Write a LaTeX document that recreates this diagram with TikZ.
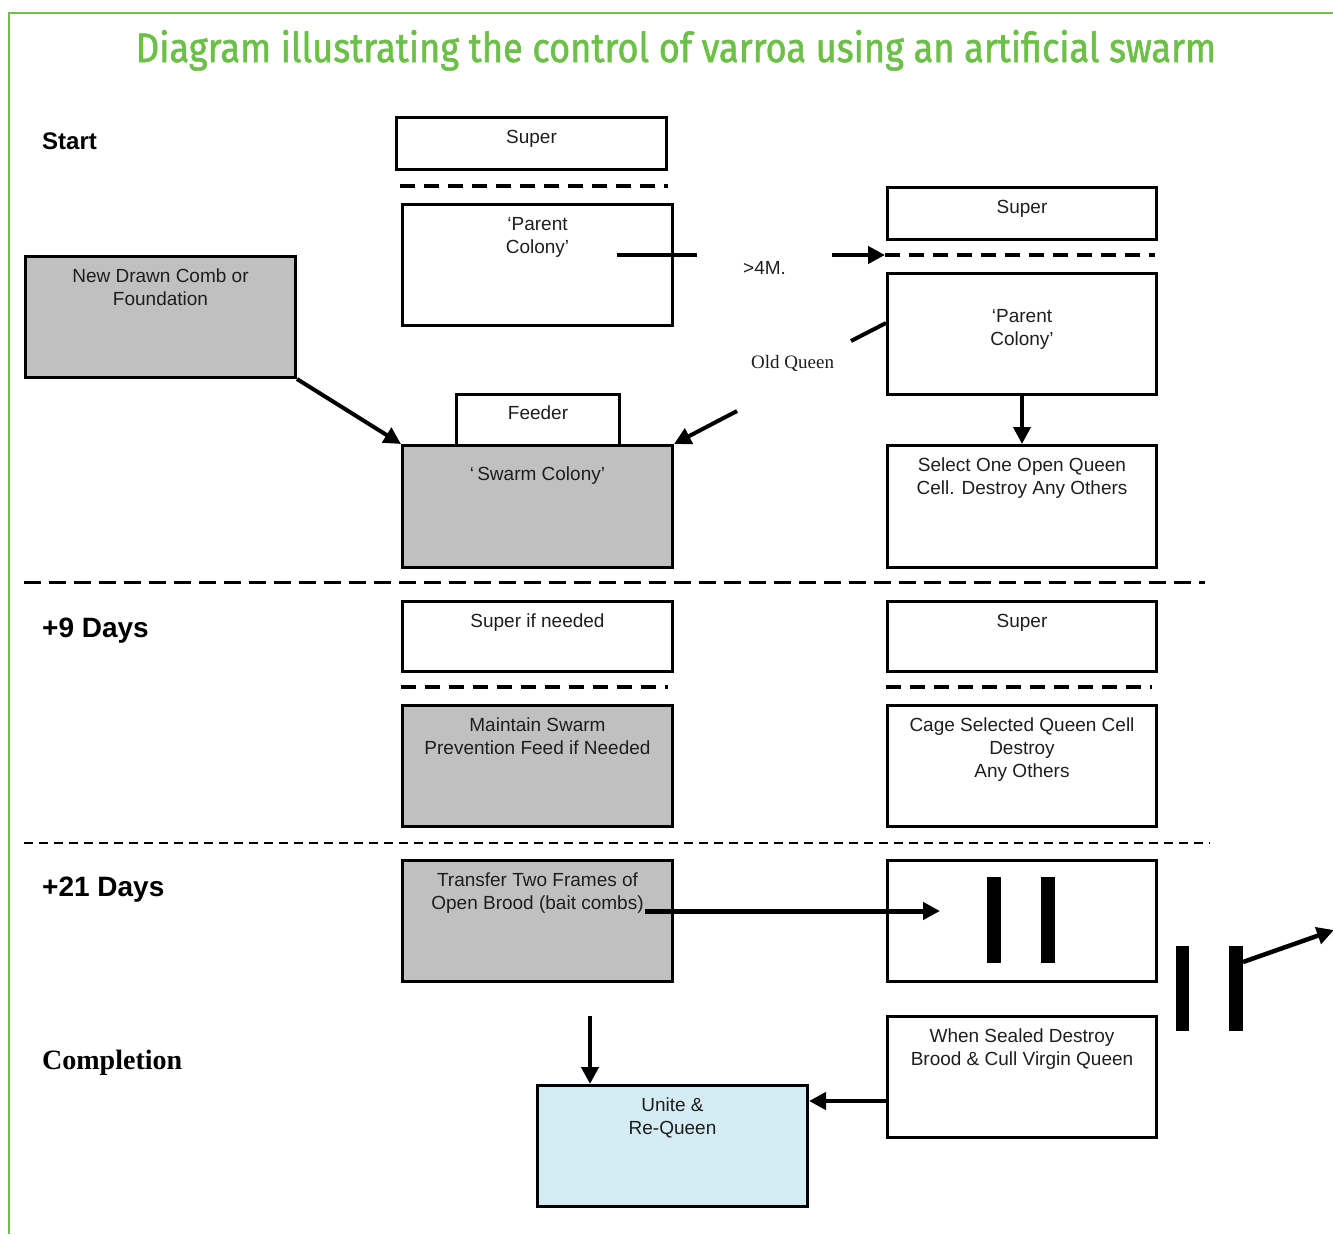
\documentclass[tikz,border=0pt]{standalone}
\usepackage{graphicx}
\usepackage{fontspec}
\setmainfont{Liberation Sans}
\newfontfamily\serifF{Liberation Serif}
\newfontfamily\titleF{Fira Sans}[FakeBold=1.5]
\usetikzlibrary{arrows.meta}
\definecolor{ggreen}{RGB}{108,192,72}
\definecolor{boxgray}{RGB}{192,192,192}
\definecolor{lblue}{RGB}{212,236,244}
\definecolor{txtc}{RGB}{30,30,30}
\begin{document}
\begin{tikzpicture}[x=1pt,y=-1pt,
  box/.style={draw=black,line width=3pt,anchor=north west,inner sep=0pt,minimum width=270pt,minimum height=121pt},
  gbox/.style={box,fill=boxgray},
  boxtxt/.style={anchor=north,align=center,inner sep=0pt,text=txtc,font=\fontsize{19}{23}\selectfont},
  phase/.style={anchor=base west,inner sep=0pt,text=black,font=\bfseries\fontsize{28}{32}\selectfont},
  arr/.style={line width=4.5pt,-{Triangle[length=17pt,width=17pt]}},
  thick line/.style={line width=4.5pt},
  sepdash/.style={line width=3.5pt,dash pattern=on 15pt off 9pt},
  longdash/.style={line width=3pt,dash pattern=on 17pt off 8pt},
  finedash/.style={line width=2.5pt,dash pattern=on 9pt off 6pt}
]
\useasboundingbox (0,0) rectangle (1333,1234);
% frame
\draw[ggreen,line width=2.5pt] (9,1234) -- (9,13) -- (1333,13);
% title
\node[text=ggreen,anchor=base,inner sep=0pt] (title) at (676,62)
  {\resizebox{1080pt}{32pt}{\titleF Diagram illustrating the control of varroa using an artificial swarm}};

% phase labels
\node[phase,font=\bfseries\fontsize{24}{28}\selectfont] (start) at (42,149) {Start};
\node[phase] (nine) at (42,637) {+9 Days};
\node[phase] (tw1) at (42,896) {+21 Days};
\node[phase,font=\serifF\bfseries\fontsize{28}{32}\selectfont] (comp) at (42,1069) {Completion};

% ---------- Start row, left column ----------
\node[box,minimum height=52pt] (S1) at (395,116) {};
\node[boxtxt] at ([yshift=-14pt]S1.north) {Super};
\draw[sepdash] (400,186) -- (668,186);
\node[box] (PC1) at (401,203) {};
\node[boxtxt] at ([yshift=-14pt]PC1.north) {‘Parent\\Colony’};

\node[gbox] (ND) at (24,255) {};
\node[boxtxt] at ([yshift=-14pt]ND.north) {New Drawn Comb or\\Foundation};

\node[box,minimum width=163pt,minimum height=51pt] (FD) at (455,393) {};
\node[boxtxt] at ([yshift=-13pt]FD.north) {Feeder};
\node[gbox,minimum height=122pt] (SC) at (401,444) {};
\node[boxtxt] at ([yshift=-23pt]SC.north) {‘\,Swarm Colony’};

% ---------- Start row, right column ----------
\node[box,minimum width=269pt,minimum height=52pt] (S2) at (886,186) {};
\node[boxtxt] at ([yshift=-14pt]S2.north) {Super};
\draw[sepdash] (885,255) -- (1155,255);
\node[box,minimum width=269pt] (PC2) at (886,272) {};
\node[boxtxt] at ([yshift=-37pt]PC2.north) {‘Parent\\Colony’};
\node[box,minimum width=269pt,minimum height=122pt] (SEL) at (886,444) {};
\node[boxtxt] at ([yshift=-14pt]SEL.north) {Select One Open Queen\\Cell. Destroy Any Others};

% move labels and connectors
\node[anchor=base west,inner sep=0pt,text=txtc,font=\fontsize{19}{22}\selectfont] (fourM) at (743,274) {>4M.};
\node[anchor=base west,inner sep=0pt,text=txtc,font=\serifF\fontsize{19}{22}\selectfont] (oldq) at (751,368) {Old Queen};
\coordinate (mA) at (617,255);
\coordinate (mB) at (697,255);
\coordinate (mC) at (832,255);
\coordinate (mD) at (885,255);
\draw[thick line] (mA) -- (mB);
\draw[arr] (mC) -- (mD);
\coordinate (qA) at (851,341);
\coordinate (qB) at (886,323);
\draw[line width=4pt] (qA) -- (qB);
\coordinate (qC) at (737,411);
\draw[arr,line width=4pt] (qC) -- (SC.north east);
\draw[arr,line width=4pt] (ND.south east) -- (SC.north west);
\draw[arr,line width=4pt] (PC2.south) -- (SEL.north);

\draw[longdash] (24,582) -- (1205,582);

% ---------- +9 days ----------
\node[box,minimum height=70pt] (S3) at (401,600) {};
\node[boxtxt] at ([yshift=-14pt]S3.north) {Super if needed};
\draw[sepdash] (401,687) -- (668,687);
\node[gbox] (MS) at (401,704) {};
\node[boxtxt] at ([yshift=-14pt]MS.north) {Maintain Swarm\\Prevention Feed if Needed};

\node[box,minimum width=269pt,minimum height=70pt] (S4) at (886,600) {};
\node[boxtxt] at ([yshift=-14pt]S4.north) {Super};
\draw[sepdash] (886,687) -- (1152,687);
\node[box,minimum width=269pt] (CG) at (886,704) {};
\node[boxtxt] at ([yshift=-14pt]CG.north) {Cage Selected Queen Cell\\Destroy\\Any Others};

\draw[finedash] (24,843) -- (1210,843);

% ---------- +21 days ----------
\node[gbox] (TR) at (401,859) {};
\node[boxtxt] at ([yshift=-14pt]TR.north) {Transfer Two Frames of\\Open Brood (bait combs)};
\node[box,minimum width=269pt] (BB) at (886,859) {};
\fill (987,877) rectangle (1001,963);
\fill (1041,877) rectangle (1055,963);
\coordinate (tA) at (645,911);
\coordinate (tB) at (940,911);
\draw[arr,line width=5pt] (tA) -- (tB);

\fill (1176,946) rectangle (1189,1031);
\fill (1229,946) rectangle (1243,1031);
\coordinate (oA) at (1243,962);
\coordinate (oB) at (1334,930);
\draw[arr,line width=4.5pt] (oA) -- (oB);

% ---------- completion ----------
\node[box,fill=lblue] (UN) at (536,1084) {};
\node[boxtxt] at ([yshift=-14pt]UN.north) {Unite \&\\Re-Queen};
\node[box,minimum width=269pt] (WS) at (886,1015) {};
\node[boxtxt] at ([yshift=-14pt]WS.north) {When Sealed Destroy\\Brood \& Cull Virgin Queen};
\coordinate (dA) at (590,1016);
\coordinate (dB) at (590,1084);
\draw[arr] (dA) -- (dB);
\coordinate (hy) at (0,1101);
\draw[arr] (WS.west |- hy) -- (UN.east |- hy);
\end{tikzpicture}
\end{document}
